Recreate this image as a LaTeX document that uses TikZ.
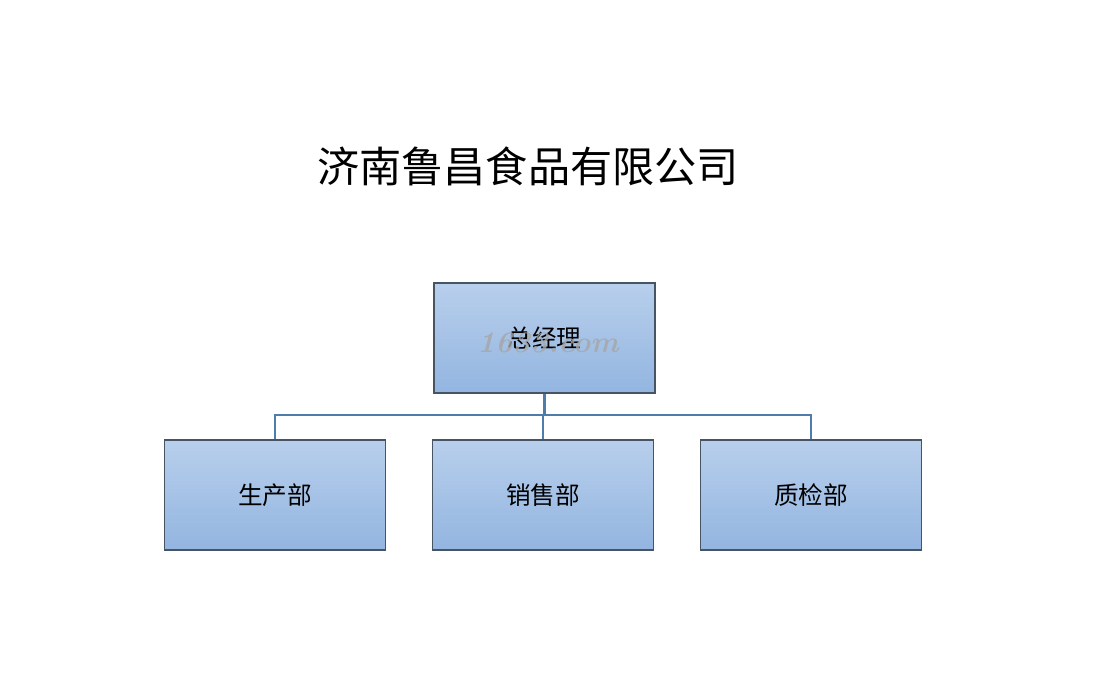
\documentclass[tikz,border=0pt]{standalone}
\usepackage{fontspec}
\usepackage{tikz}
\usetikzlibrary{calc}
\newfontfamily\cjk{Noto Sans CJK SC}
\definecolor{boxtop}{RGB}{184,207,236}
\definecolor{boxbot}{RGB}{147,181,224}
\definecolor{boxline}{RGB}{70,84,100}
\definecolor{linkline}{RGB}{79,125,170}

\begin{document}
\begin{tikzpicture}
                      \tikzstyle{dept}=[rectangle,draw=boxline,line width=0.9pt,top color=boxtop,bottom color=boxbot,minimum width=4.42cm,minimum height=2.2cm,inner sep=0pt,font=\cjk\fontsize{14}{16}\selectfont]
                      \tikzstyle{link}=[draw=linkline,line width=1.4pt]
                      \useasboundingbox (0,0) rectangle (21.9,-13.68);
                      \node[font=\cjk\fontsize{24}{28}\selectfont] (title) at (10.56,-3.32) {济南鲁昌食品有限公司};
                      \node[dept] (gm) at (10.89,-6.76) {总经理};
                      \node[dept] (prod) at (5.5,-9.9) {生产部};
                      \node[dept] (sales) at (10.86,-9.9) {销售部};
                      \node[dept] (qc) at (16.22,-9.9) {质检部};
                      \coordinate (bar) at (0,-8.3);
                      \draw[link] (gm.south) -- (gm.south |- bar);
                      \draw[link] (prod.north) -- (prod.north |- bar) -- (qc.north |- bar) -- (qc.north);
                      \draw[link] (sales.north) -- (sales.north |- bar);
                      \node[text=gray!70,opacity=0.8,font=\fontsize{17}{20}\selectfont\bfseries\itshape] (mark) at (10.96,-6.86) {1633.com};
                  \end{tikzpicture}
\end{document}
